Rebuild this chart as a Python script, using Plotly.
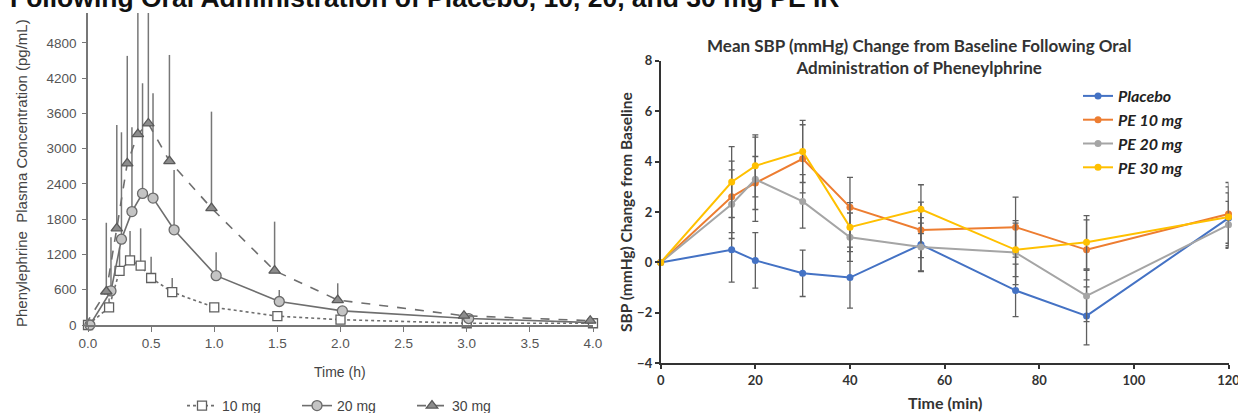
import plotly.graph_objects as go

# ---------------- Left panel: plasma concentration (pg/mL) vs time (h) ----------------
pk_time = [0, 0.167, 0.25, 0.333, 0.417, 0.5, 0.667, 1.0, 1.5, 2.0, 3.0, 4.0]

conc_10 = [0, 300, 920, 1100, 1010, 800, 560, 300, 150, 90, 30, 30]
conc_20 = [0, 580, 1460, 1930, 2240, 2160, 1620, 840, 400, 240, 110, 40]
conc_30 = [0, 570, 1645, 2750, 3250, 3430, 2790, 1990, 925, 425, 158, 73]

sd_10 = [0, 150, 400, 500, 635, 363, 240, 60, 30, 20, 10, 10]
sd_20 = [0, 913, 1820, 1434, 1874, 1784, 1018, 400, 196, 60, 20, 10]
sd_30 = [0, 1170, 1760, 1830, 2060, 1880, 1806, 1641, 834, 285, 40, 20]

pk_labels = ["10 mg", "20 mg", "30 mg"]
pk_yticks = [0, 600, 1200, 1800, 2400, 3000, 3600, 4200, 4800]
pk_xticks = [0.0, 0.5, 1.0, 1.5, 2.0, 2.5, 3.0, 3.5, 4.0]

# ---------------- Right panel: SBP change from baseline vs time (min) ----------------
bp_time = [0, 15, 20, 30, 40, 55, 75, 90, 120]
bp_names = ["Placebo", "PE 10 mg", "PE 20 mg", "PE 30 mg"]

sbp_placebo = [0, 0.5, 0.08, -0.43, -0.6, 0.71, -1.11, -2.12, 1.76]
sbp_pe10 = [0, 2.6, 3.15, 4.11, 2.19, 1.29, 1.4, 0.5, 1.92]
sbp_pe20 = [0, 2.31, 3.3, 2.42, 1.0, 0.61, 0.39, -1.33, 1.49]
sbp_pe30 = [0, 3.19, 3.83, 4.4, 1.4, 2.11, 0.5, 0.8, 1.8]

se_placebo = [0, 1.28, 1.1, 0.92, 1.21, 1.07, 1.04, 1.15, 1.0]
se_pe10 = [0, 1.42, 1.05, 1.35, 1.18, 1.1, 1.19, 1.19, 1.25]
se_pe20 = [0, 1.36, 1.67, 1.06, 0.96, 0.95, 1.27, 1.02, 0.93]
se_pe30 = [0, 1.4, 1.23, 1.23, 0.97, 0.97, 1.06, 1.06, 1.2]

bp_yticks = [-4, -2, 0, 2, 4, 6, 8]
bp_xticks = [0, 20, 40, 60, 80, 100, 120]

W, H = 1238, 413


def px_x(p):
    return p / W


def px_y(p):
    return 1 - p / H


fig = go.Figure()

# ---- left panel traces ----
pk_grey = "#6e6e6e"
pk_series = [
    (conc_10, sd_10, 0.0, "dot", dict(symbol="square", size=9, color="white",
                                      line=dict(color="#606060", width=1.3))),
    (conc_20, sd_20, 0.015, "solid", dict(symbol="circle", size=10, color="#c4c4c4",
                                          line=dict(color="#6a6a6a", width=1.3))),
    (conc_30, sd_30, -0.022, "dash", dict(symbol="triangle-up", size=10, color="#8c8c8c",
                                          line=dict(color="#5a5a5a", width=1.3))),
]
for name, (vals, sd, dodge, dash, marker) in zip(pk_labels, pk_series):
    fig.add_trace(go.Scatter(
        x=[t + dodge for t in pk_time], y=vals, name=name,
        mode="lines+markers", xaxis="x", yaxis="y", legend="legend2",
        line=dict(color=pk_grey, width=1.6, dash=dash),
        marker=marker, cliponaxis=False,
        error_y=dict(type="data", symmetric=False, array=sd,
                     arrayminus=[0] * len(sd), width=0, thickness=1.5,
                     color="#777777"),
    ))

# ---- right panel traces ----
bp_colors = ["#4472C4", "#ED7D31", "#A5A5A5", "#FFC000"]
bp_vals = [sbp_placebo, sbp_pe10, sbp_pe20, sbp_pe30]
bp_se = [se_placebo, se_pe10, se_pe20, se_pe30]
for name, col, vals, se in zip(bp_names, bp_colors, bp_vals, bp_se):
    fig.add_trace(go.Scatter(
        x=bp_time, y=vals, name=name, mode="lines+markers",
        xaxis="x2", yaxis="y2", legend="legend",
        line=dict(color=col, width=2),
        marker=dict(color=col, size=7),
        cliponaxis=False,
        error_y=dict(type="data", array=se, width=3, thickness=1.3,
                     color="#5f5f5f"),
    ))

left_font = dict(family="Liberation Sans, Arial, sans-serif", size=13.5, color="#555555")
right_font = dict(family="Lato, Carlito, sans-serif", size=13, color="#333333", weight="bold")

fig.update_layout(
    width=W, height=H,
    margin=dict(l=0, r=0, t=0, b=0, autoexpand=False),
    paper_bgcolor="white", plot_bgcolor="white",
    showlegend=True,
    xaxis=dict(
        domain=[px_x(88), px_x(593)], range=[0, 4.0], anchor="y",
        tickvals=pk_xticks, ticktext=[f"{v:.1f}" for v in pk_xticks],
        ticks="outside", ticklen=5, tickwidth=1.3, tickcolor="#777777",
        showline=True, linecolor="#777777", linewidth=1.5,
        showgrid=False, zeroline=False, tickfont=left_font, automargin=False,
    ),
    yaxis=dict(
        domain=[px_y(325), px_y(13)], range=[0, 5310], anchor="x",
        tickvals=pk_yticks, ticks="outside", ticklen=4, tickwidth=1.3,
        tickcolor="#777777", showline=True, linecolor="#777777", linewidth=1.5,
        showgrid=False, zeroline=False, tickfont=left_font, automargin=False,
        ticklabelstandoff=3,
    ),
    xaxis2=dict(
        domain=[px_x(660.7), px_x(1228.5)], range=[0, 120], anchor="y2",
        tickvals=bp_xticks, ticks="outside", ticklen=4, tickwidth=1.5,
        tickcolor="#333333", showline=True, linecolor="#333333", linewidth=1.8,
        showgrid=False, zeroline=False, tickfont=right_font, automargin=False,
        ticklabeloverflow="allow",
    ),
    yaxis2=dict(
        domain=[px_y(363.3), px_y(60.7)], range=[-4, 8], anchor="x2",
        tickvals=bp_yticks, ticks="outside", ticklen=4, tickwidth=1.5,
        tickcolor="#333333", showline=True, linecolor="#333333", linewidth=1.8,
        showgrid=False, zeroline=False, tickfont=right_font, automargin=False,
    ),
    legend=dict(
        x=px_x(1078), y=px_y(79), xanchor="left", yanchor="top",
        bgcolor="rgba(0,0,0,0)", borderwidth=0,
        font=dict(family="Lato, Carlito, sans-serif", size=16, color="#222222",
                  weight="bold", style="italic"),
        tracegroupgap=0,
    ),
    legend2=dict(
        orientation="h", x=px_x(182), y=px_y(406), xanchor="left", yanchor="middle",
        bgcolor="rgba(0,0,0,0)", borderwidth=0,
        font=dict(family="Liberation Sans, Arial, sans-serif", size=14, color="#444444"),
        entrywidth=70, entrywidthmode="pixels",
    ),
)

annotations = [
    # heading across the top of the figure, partly above the page edge
    dict(text="<b>Following Oral Administration of Placebo, 10, 20, and 30 mg PE IR</b>",
         x=px_x(8), y=px_y(-2.5), xanchor="left", yanchor="middle",
         font=dict(family="Liberation Sans, Arial, sans-serif", size=26.5, color="#111111")),
    # left panel axis titles
    dict(text="Phenylephrine  Plasma Concentration (pg/mL)", textangle=-90,
         x=px_x(22), y=px_y(173), xanchor="center", yanchor="middle",
         font=dict(family="Liberation Sans, Arial, sans-serif", size=15, color="#444444")),
    dict(text="Time (h)", x=px_x(340), y=px_y(372), xanchor="center", yanchor="middle",
         font=dict(family="Liberation Sans, Arial, sans-serif", size=14, color="#444444")),
    # right panel titles
    dict(text="Mean SBP (mmHg) Change from Baseline Following Oral<br>Administration of Pheneylphrine",
         x=px_x(919), y=px_y(56.5), xanchor="center", yanchor="middle",
         font=dict(family="Lato, Carlito, sans-serif", size=17, color="#333333", weight="bold")),
    dict(text="SBP (mmHg) Change from Baseline", textangle=-90,
         x=px_x(626), y=px_y(212), xanchor="center", yanchor="middle",
         font=dict(family="Lato, Carlito, sans-serif", size=15.5, color="#333333", weight="bold")),
    dict(text="Time (min)", x=px_x(945), y=px_y(402), xanchor="center", yanchor="middle",
         font=dict(family="Lato, Carlito, sans-serif", size=16, color="#333333", weight="bold")),
]
for a in annotations:
    a.update(xref="paper", yref="paper", showarrow=False)
fig.update_layout(annotations=annotations)

fig.write_html("out.html")
